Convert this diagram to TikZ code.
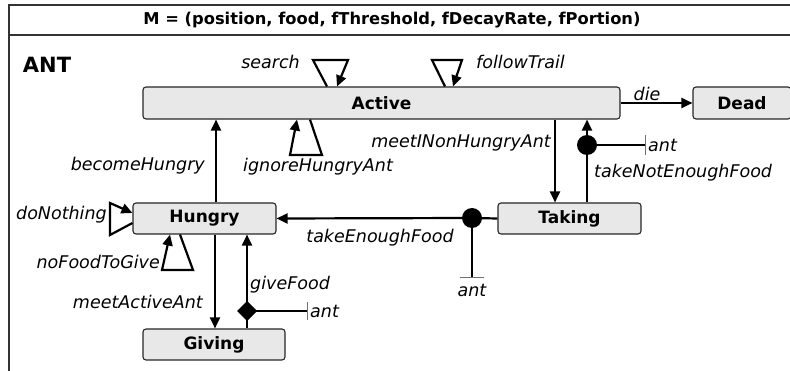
\documentclass[tikz,border=0pt]{standalone}
\usepackage{fontspec}
\setmainfont{DejaVu Sans}
\usetikzlibrary{arrows.meta}
\definecolor{statefill}{HTML}{E8E8E8}
\definecolor{tickgray}{HTML}{707070}
\begin{document}
\begin{tikzpicture}[x=1pt,y=-1pt,
  state/.style={draw=black!85, line width=1.1pt, fill=statefill, rounded corners=3pt,
    font=\bfseries\fontsize{17}{17}\selectfont, inner sep=0pt, anchor=center},
  tr/.style={line width=2.2pt, -{Triangle[length=11pt,width=10pt]}},
  ln/.style={line width=2.2pt},
  lbl/.style={font=\itshape\fontsize{17.5}{17.5}\selectfont, inner sep=0pt},
  tick/.style={line width=0.9pt, draw=tickgray},
  frame/.style={line width=1.5pt, draw=black!80},
]
\useasboundingbox (0,0) rectangle (790,371);
% frame
\draw[frame] (9,380) -- (9,5) -- (800,5);
\draw[frame] (9,35) -- (800,35);
\node[font=\bfseries\fontsize{16.3}{16.3}\selectfont, inner sep=0pt] (title) at (392,20) {M = (position, food, fThreshold, fDecayRate, fPortion)};
\node[font=\bfseries\fontsize{21}{21}\selectfont, inner sep=0pt] (antlbl) at (47,65) {ANT};

% states
\node[state, minimum width=477pt, minimum height=32pt] (Active) at (381.5,103) {Active};
\node[state, minimum width=98pt, minimum height=32pt] (Dead) at (742,103) {Dead};
\node[state, minimum width=143pt, minimum height=31pt] (Hungry) at (204.5,218.5) {Hungry};
\node[state, minimum width=142pt, minimum height=31pt] (Giving) at (214,344.5) {Giving};
\node[state, minimum width=143pt, minimum height=31pt] (Taking) at (569.5,218.5) {Taking};

% helper columns
\coordinate (xbec) at (216,0);
\coordinate (xmeet) at (215,0);
\coordinate (xgive) at (247,0);
\coordinate (xmni) at (555,0);
\coordinate (xtne) at (587,0);

% die
\draw[tr] (Active.east) -- (Dead.west);
\node[lbl] (ldie) at (647,94) {die};

% search loop
\coordinate (s1) at (313,60);
\coordinate (s2) at (348,60);
\draw[tr] (Active.north -| 327,0) -- (s1) -- (s2) -- (Active.north -| 337,0);
\node[lbl, anchor=east] (lsearch) at (300,62) {search};

% followTrail loop
\coordinate (f1) at (432,60);
\coordinate (f2) at (462,60);
\draw[tr] (Active.north -| 445,0) -- (f1) -- (f2) -- (Active.north -| 453,0);
\node[lbl, anchor=west] (lfollow) at (476,62) {followTrail};

% ignoreHungryAnt loop
\coordinate (i1) at (322,155);
\coordinate (i2) at (290,155);
\draw[tr] (Active.south -| 310,0) -- (i1) -- (i2) -- (Active.south -| 297,0);
\node[lbl, anchor=west] (lignore) at (243,167) {ignoreHungryAnt};

% becomeHungry
\draw[tr] (Hungry.north -| xbec) -- (Active.south -| xbec);
\node[lbl, anchor=east] (lbecome) at (205,166) {becomeHungry};

% meetINonHungryAnt
\draw[tr] (Active.south -| xmni) -- (Taking.north -| xmni);
\node[lbl, anchor=east] (lmni) at (551,143) {meetINonHungryAnt};

% takeNotEnoughFood
\coordinate (dot1) at (587,145);
\draw[tr] (Taking.north -| xtne) -- (Active.south -| xtne);
\fill (dot1) circle (10pt);
\coordinate (a1) at (645,145);
\draw[ln] (dot1) -- (a1);
\draw[tick] (645,135) -- (645,155);
\node[lbl, anchor=west] (lant1) at (648,145) {ant};
\node[lbl, anchor=west] (ltne) at (594,173) {takeNotEnoughFood};

% takeEnoughFood
\coordinate (dot2) at (472,218);
\draw[ln] (Taking.west) -- (dot2);
\draw[tr] (dot2) -- (Hungry.east);
\fill (dot2) circle (10pt);
\coordinate (a2) at (472,277);
\draw[ln] (dot2) -- (a2);
\draw[tick] (460,277) -- (484,277);
\node[lbl] (lant2) at (472,290) {ant};
\node[lbl] (lteF) at (380,238) {takeEnoughFood};

% doNothing loop
\coordinate (d1) at (110,235);
\coordinate (d2) at (110,203);
\draw[tr] (Hungry.west |- 0,223) -- (d1) -- (d2) -- (Hungry.west |- 0,213);
\node[lbl, anchor=east] (ldo) at (107,215) {doNothing};

% noFoodToGive loop
\coordinate (n1) at (193,270);
\coordinate (n2) at (162,270);
\draw[tr] (Hungry.south -| 180,0) -- (n1) -- (n2) -- (Hungry.south -| 170,0);
\node[lbl, anchor=east] (lnofood) at (160,262) {noFoodToGive};

% meetActiveAnt
\draw[tr] (Hungry.south -| xmeet) -- (Giving.north -| xmeet);
\node[lbl, anchor=east] (lmaa) at (203,302) {meetActiveAnt};

% giveFood
\coordinate (dia) at (247,311);
\draw[tr] (Giving.north -| xgive) -- (Hungry.south -| xgive);
\fill (237,311) -- (247,301) -- (257,311) -- (247,321) -- cycle;
\coordinate (a3) at (307,311);
\draw[ln] (dia) -- (a3);
\draw[tick] (307,302) -- (307,320);
\node[lbl, anchor=west] (lant3) at (310,311) {ant};
\node[lbl, anchor=west] (lgive) at (250,285) {giveFood};
\end{tikzpicture}
\end{document}
